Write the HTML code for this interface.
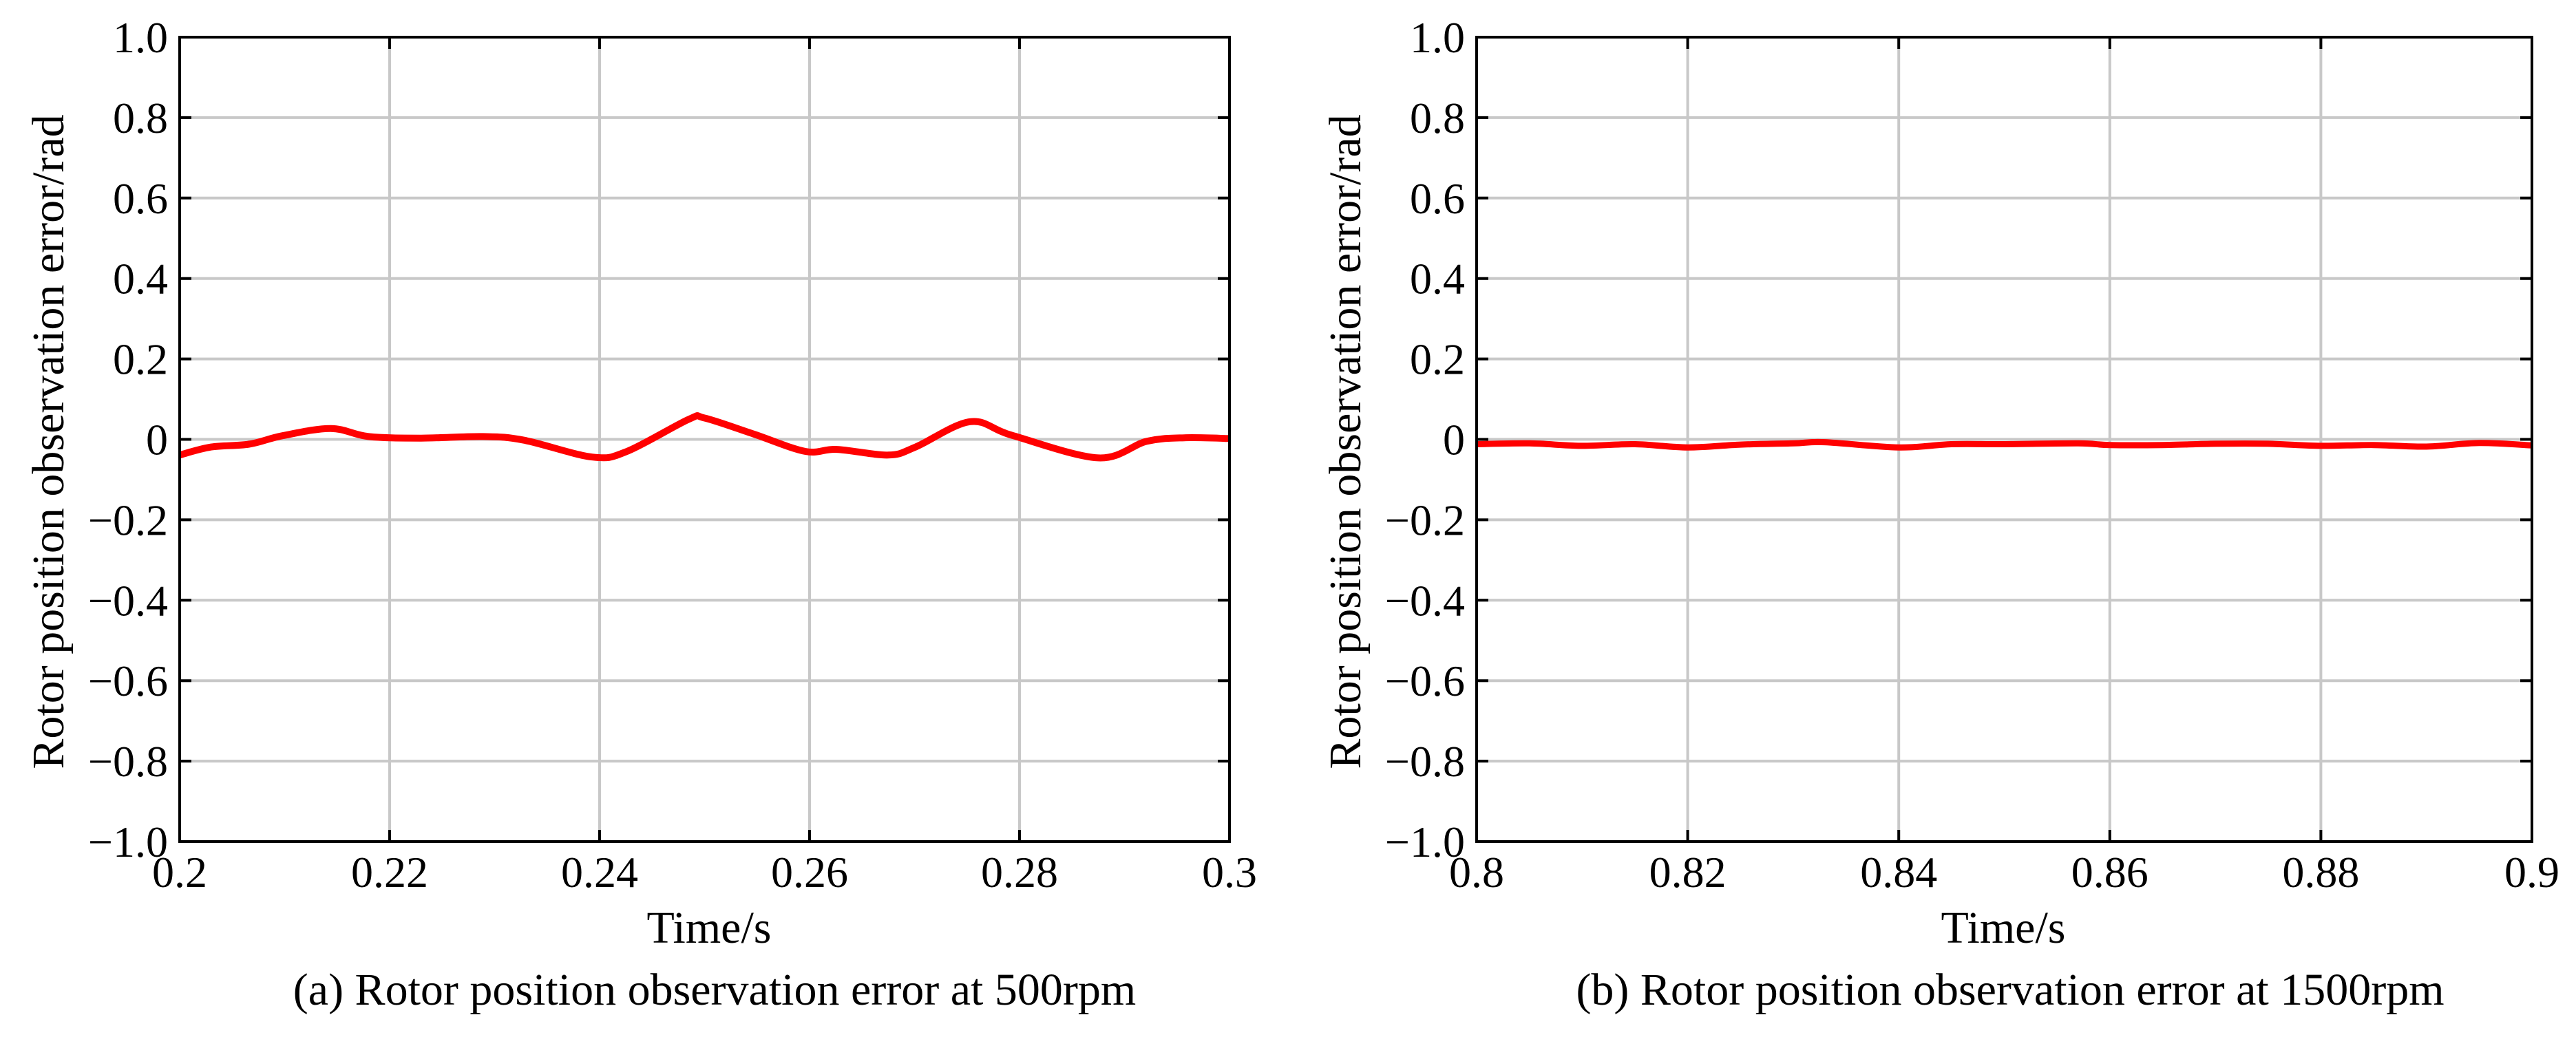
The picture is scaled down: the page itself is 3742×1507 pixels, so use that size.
<!DOCTYPE html>
<html><head><meta charset="utf-8"><style>
html,body{margin:0;padding:0;background:#fff;}
svg{display:block;}
text{font-family:"Liberation Serif",serif;fill:#000;}
</style></head><body>
<svg id="fig" width="3742" height="1507" viewBox="0 0 3742 1507">
</svg>
<script>
const yTicks=[1.0,0.8,0.6,0.4,0.2,0,-0.2,-0.4,-0.6,-0.8,-1.0];
const yTickLabels=["1.0","0.8","0.6","0.4","0.2","0","\u22120.2","\u22120.4","\u22120.6","\u22120.8","\u22121.0"];
const xTicksA=[0.2,0.22,0.24,0.26,0.28,0.3];
const xTickLabelsA=["0.2","0.22","0.24","0.26","0.28","0.3"];
const xTicksB=[0.8,0.82,0.84,0.86,0.88,0.9];
const xTickLabelsB=["0.8","0.82","0.84","0.86","0.88","0.9"];
const timeA=[0.2,0.203,0.2066,0.2098,0.2144,0.218,0.223,0.2289,0.2328,0.2393,0.2426,0.2485,0.2500,0.2547,0.2596,0.2626,0.2675,0.2701,0.2753,0.2793,0.2875,0.2921,0.2957,0.300];
const errA=[-0.039,-0.019,-0.012,0.009,0.027,0.007,0.003,0.007,-0.002,-0.044,-0.030,0.050,0.053,0.013,-0.030,-0.025,-0.039,-0.019,0.044,0.010,-0.046,-0.005,0.004,0.002];
const timeB=[0.8,0.805,0.81,0.815,0.82,0.825,0.83,0.833,0.84,0.845,0.85,0.857,0.86,0.865,0.87,0.875,0.88,0.885,0.89,0.895,0.9];
const errB=[-0.012,-0.010,-0.016,-0.012,-0.020,-0.013,-0.010,-0.007,-0.020,-0.012,-0.012,-0.010,-0.014,-0.014,-0.011,-0.011,-0.016,-0.014,-0.018,-0.009,-0.015];

const NS="http://www.w3.org/2000/svg";
const svg=document.getElementById('fig');
function mk(tag,attrs,parent){const e=document.createElementNS(NS,tag);for(const k in attrs)e.setAttribute(k,attrs[k]);(parent||svg).appendChild(e);return e;}

function smoothPath(P){
  let d='M'+P[0][0].toFixed(1)+','+P[0][1].toFixed(1);
  for(let i=0;i<P.length-1;i++){
    const p0=P[Math.max(i-1,0)],p1=P[i],p2=P[i+1],p3=P[Math.min(i+2,P.length-1)];
    const c1x=p1[0]+(p2[0]-p0[0])/6,c1y=p1[1]+(p2[1]-p0[1])/6;
    const c2x=p2[0]-(p3[0]-p1[0])/6,c2y=p2[1]-(p3[1]-p1[1])/6;
    d+=` C${c1x.toFixed(1)},${c1y.toFixed(1)} ${c2x.toFixed(1)},${c2y.toFixed(1)} ${p2[0].toFixed(1)},${p2[1].toFixed(1)}`;
  }
  return d;
}

function panel(id,L,R,xTicks,xLabels,times,errs,xmin,xmax,lw,ylabX,ylabRight,caption,capX,timeX){
  const T=54,B=1223;
  const g=mk('g',{});
  
  
  const sx=v=>L+(v-xmin)/(xmax-xmin)*(R-L);
  const sy=v=>T+(1-v)/2*(B-T);
  yTicks.forEach(v=>{
    const ln=mk('line',{x1:L,x2:R,y1:sy(v),y2:sy(v),stroke:'#c8c8c8','stroke-width':4},g);
    
    
  });
  xTicks.forEach(v=>{
    const ln=mk('line',{x1:sx(v),x2:sx(v),y1:T,y2:B,stroke:'#c8c8c8','stroke-width':4},g);
    
    
  });
  yTicks.forEach(v=>{
    const y=sy(v);
    mk('line',{x1:L,x2:L+17,y1:y,y2:y,stroke:'#000','stroke-width':4},g);
    mk('line',{x1:R-17,x2:R,y1:y,y2:y,stroke:'#000','stroke-width':4},g);
  });
  xTicks.forEach(v=>{
    const x=sx(v);
    mk('line',{x1:x,x2:x,y1:T,y2:T+17,stroke:'#000','stroke-width':4},g);
    mk('line',{x1:x,x2:x,y1:B-17,y2:B,stroke:'#000','stroke-width':4},g);
  });
  const P=times.map((t,i)=>[sx(t),sy(errs[i])]);
  const pl=mk('path',{d:smoothPath(P),fill:'none',stroke:'#ff0000','stroke-width':lw,'stroke-linejoin':'round','stroke-linecap':'butt'},g);
  
  
  const fr=mk('rect',{x:L,y:T,width:R-L,height:B-T,fill:'none',stroke:'#000','stroke-width':4},g);
  
  
  yTicks.forEach((v,i)=>{
    const t=mk('text',{x:ylabRight,y:sy(v)+22,'font-size':64,'text-anchor':'end'},g);
    t.textContent=yTickLabels[i];
    
    
  });
  xTicks.forEach((v,i)=>{
    const t=mk('text',{x:sx(v),y:1289,'font-size':64,'text-anchor':'middle'},g);
    t.textContent=xLabels[i];
    
    
  });
  const xt=mk('text',{x:timeX,y:1370,'font-size':66,'text-anchor':'middle'},g);
  xt.textContent='Time/s';
  
  
  const yt=mk('text',{x:0,y:0,'font-size':66,'text-anchor':'middle',transform:`translate(${ylabX},642) rotate(-90)`},g);
  yt.textContent='Rotor position observation error/rad';
  
  
  const cp=mk('text',{x:capX,y:1460,'font-size':66,'text-anchor':'middle'},g);
  cp.textContent=caption;
  
  
}
panel('panel-500rpm',261,1786,xTicksA,xTickLabelsA,timeA,errA,0.2,0.3,10,92,244,'(a) Rotor position observation error at 500rpm',1038,1030);
panel('panel-1500rpm',2145,3678,xTicksB,xTickLabelsB,timeB,errB,0.8,0.9,9,1976,2128,'(b) Rotor position observation error at 1500rpm',2920,2910);
</script>
</body></html>
